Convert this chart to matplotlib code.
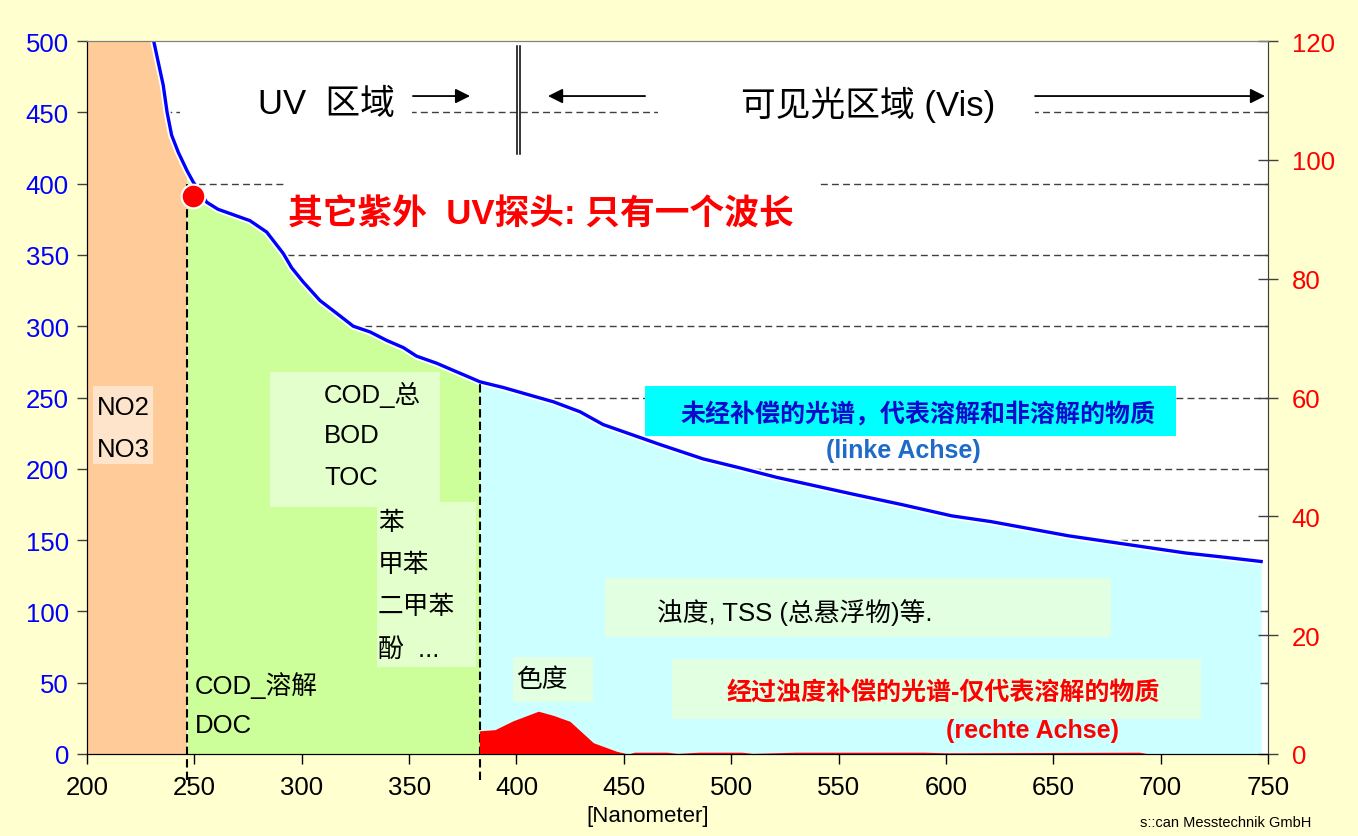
import numpy as np
import matplotlib.pyplot as plt
from matplotlib.patches import Rectangle
from matplotlib.ticker import MultipleLocator

plt.rcParams['font.family'] = ['Liberation Sans', 'Noto Sans CJK SC', 'DejaVu Sans']

# ---------------------------
# Data
# ---------------------------
# uncompensated spectrum (left axis)
wl = [200, 215, 225, 231.2, 233.2, 235.5, 237.3, 239.4, 242.5, 246.6, 249.5, 255.7,
      261.0, 266.6, 275.9, 283.7, 291.4, 295.3, 300.7, 308.5, 316.3, 324.0, 331.8,
      339.6, 347.3, 353.5, 362.9, 370.6, 378.4, 383.0, 393.9, 407.8, 417.2, 429.6,
      440.4, 466.9, 486.8, 503.1, 521.2, 539.3, 557.4, 579.2, 602.7, 620.9, 639.0,
      657.1, 675.2, 693.3, 711.4, 729.6, 746.8]
absorb = [900, 750, 590, 499, 485, 469, 450, 434, 422, 409, 401, 387,
          382, 379, 374, 366, 351, 341, 331, 318, 309, 300, 296,
          290, 285, 279, 274, 269, 264, 261, 257, 251, 247, 240,
          231, 217, 207, 201, 194, 188, 182, 175, 167, 163, 158,
          153, 149, 145, 141, 138, 135]

# turbidity-compensated spectrum (right axis)
red_wl = [382.7, 390, 398.5, 410.2, 417.2, 424.9, 435.8, 446.7, 452, 455, 470, 475,
          485, 505, 510, 530, 590, 600, 690, 695]
red_val = [3.9, 4.1, 5.6, 7.2, 6.5, 5.5, 1.9, 0.45, 0.0, 0.3, 0.3, 0.1,
           0.3, 0.3, 0.1, 0.3, 0.3, 0.2, 0.3, 0.0]

# region limits
uv_edge = 246.6     # NO2/NO3 | organics
vis_edge = 383.0    # organics | visible
probe_wl, probe_val = 249.4, 391

xticks = list(range(200, 751, 50))
left_ticks = list(range(0, 501, 50))
right_ticks = list(range(0, 121, 20))

wl = np.array(wl)
absorb = np.array(absorb)

# ---------------------------
# Figure
# ---------------------------
fig = plt.figure(figsize=(13.58, 8.37), dpi=100, facecolor='#FFFFD0')
ax = fig.add_axes([87/1358, 1-755/837, (1268-87)/1358, (755-42)/837])
ax.set_facecolor('white')
ax.set_xlim(200, 750)
ax.set_ylim(0, 500)

# gridlines behind everything
for v in left_ticks[1:-1]:
    ax.axhline(v, color='#404040', lw=1, ls=(0, (5, 3)), zorder=0.5)

# coloured areas under the curve
m1 = wl <= uv_edge
m2 = (wl >= uv_edge) & (wl <= vis_edge)
m3 = wl >= vis_edge
ax.fill_between(wl[m1], absorb[m1], color='#FFCC99', lw=0, zorder=1)
ax.fill_between(wl[m2], absorb[m2], color='#CCFF99', lw=0, zorder=1)
ax.fill_between(wl[m3], absorb[m3], color='#CCFFFF', lw=0, zorder=1)

# label boxes
boxes = [
    (202.8, 203.4, 27.9, 54.7, '#FFE4CC'),
    (285.2, 173.2, 79.2, 94.7, '#E2FFCC'),
    (335.1, 61.0, 46.1, 115.7, '#E2FFCC'),
    (398.4, 36.5, 37.3, 31.5, '#E2FFE2'),
    (441.2, 82.0, 235.7, 41.4, '#E2FFE2'),
    (472.4, 24.5, 246.4, 42.1, '#E2FFE2'),
    (459.9, 223.0, 247.3, 35.1, '#00FFFF'),
    (243.3, 439.7, 108.1, 33.7, 'white'),
    (465.9, 439.7, 175.6, 33.7, 'white'),
    (293.1, 356.2, 248.3, 45.6, 'white'),
]
for x0, y0, w, h, c in boxes:
    ax.add_patch(Rectangle((x0, y0), w, h, facecolor=c, edgecolor='none', zorder=2))

# spectrum line with a thin white rim
ax.plot(wl, absorb, color='white', lw=5, zorder=3.5, solid_capstyle='butt')
ax.plot(wl, absorb, color='#0000FF', lw=2.4, zorder=4)

# region separators
ax.plot([uv_edge, uv_edge], [-18, 400], color='black', lw=1.5, ls=(0, (4, 2)),
        zorder=5, clip_on=False)
ax.plot([vis_edge, vis_edge], [-18, 261], color='black', lw=1.5, ls=(0, (4, 2)),
        zorder=5, clip_on=False)
ax.plot(probe_wl, probe_val, 'o', ms=17, color='#FF0000', mec='white', mew=1.5, zorder=6)

# UV / Vis header
ax.plot([400.25, 400.25], [420.8, 496.5], color='black', lw=1.1, zorder=5)
ax.plot([401.65, 401.65], [420.8, 496.5], color='black', lw=1.1, zorder=5)
arrow = dict(arrowstyle='-|>', color='black', lw=1.3, mutation_scale=22,
             shrinkA=0, shrinkB=0)
ax.annotate('', xy=(378.4, 461.4), xytext=(351.8, 461.4), arrowprops=arrow, zorder=5)
ax.annotate('', xy=(414.7, 461.4), xytext=(459.9, 461.4), arrowprops=arrow, zorder=5)
ax.annotate('', xy=(748.6, 461.4), xytext=(641.5, 461.4), arrowprops=arrow, zorder=5)
ax.text(279.6, 456, 'UV  区域', fontsize=25, va='center', ha='left', zorder=5)
ax.text(563.7, 456, '可见光区域 (Vis)', fontsize=25, va='center', ha='center', zorder=5)

ax.text(293.6, 378.7, '其它紫外  UV探头: 只有一个波长', fontsize=25, color='#FF0000',
        fontweight='bold', va='center', ha='left', zorder=5)

# region texts
fs = 18.5
ax.text(204.7, 243.3, 'NO2', fontsize=fs, va='center', zorder=5)
ax.text(204.7, 213.9, 'NO3', fontsize=fs, va='center', zorder=5)
ax.text(310.4, 252.8, 'COD_总', fontsize=fs, va='center', zorder=5)
ax.text(310.4, 223.4, 'BOD', fontsize=fs, va='center', zorder=5)
ax.text(310.4, 194.6, 'TOC', fontsize=fs, va='center', zorder=5)
ax.text(335.5, 162.7, '苯', fontsize=fs, va='center', zorder=5)
ax.text(335.5, 133.3, '甲苯', fontsize=fs, va='center', zorder=5)
ax.text(335.5, 103.9, '二甲苯', fontsize=fs, va='center', zorder=5)
ax.text(335.5, 73.6, '酚  ...', fontsize=fs, va='center', zorder=5)
ax.text(250.3, 48.4, 'COD_溶解', fontsize=fs, va='center', zorder=5)
ax.text(250.3, 20.3, 'DOC', fontsize=fs, va='center', zorder=5)
ax.text(400.3, 52.6, '色度', fontsize=fs, va='center', zorder=5)
ax.text(465.5, 99.6, '浊度, TSS (总悬浮物)等.', fontsize=fs, va='center', zorder=5)
ax.text(587, 239.1, '未经补偿的光谱，代表溶解和非溶解的物质', fontsize=18,
        color='#0A0ACC', fontweight='bold', va='center', ha='center', zorder=5)
ax.text(580, 213.2, '(linke Achse)', fontsize=18, color='#1E6BC8',
        fontweight='bold', va='center', ha='center', zorder=5)
ax.text(598.6, 43.5, '经过浊度补偿的光谱-仅代表溶解的物质', fontsize=18,
        color='#FF0000', fontweight='bold', va='center', ha='center', zorder=5)
ax.text(640.1, 16.8, '(rechte Achse)', fontsize=18, color='#FF0000',
        fontweight='bold', va='center', ha='center', zorder=5)

# axes styling
ax.set_xticks(xticks)
ax.set_yticks(left_ticks)
ax.tick_params(axis='x', direction='out', length=7, width=1, pad=8,
               labelsize=18.5, colors='black')
ax.tick_params(axis='y', direction='out', length=7, width=1, pad=6,
               labelsize=18.5, labelcolor='#0000FF', color='#404040')
for s in ['top', 'right']:
    ax.spines[s].set_color('#808080')
ax.spines['left'].set_color('black')
ax.spines['bottom'].set_color('black')

# right axis: compensated spectrum
ax2 = ax.twinx()
ax2.set_ylim(0, 120)
ax2.fill_between(red_wl, red_val, color='#FF0000', lw=0, zorder=2)
ax2.set_yticks(right_ticks)
ax2.yaxis.set_minor_locator(MultipleLocator(12))
ax2.tick_params(axis='y', which='major', direction='inout', length=14, width=1,
                pad=10, labelsize=18.5, labelcolor='#FF0000', color='#404040')
ax2.tick_params(axis='y', which='minor', direction='in', length=6, width=1,
                color='#404040')
ax2.spines['right'].set_color('#404040')
ax2.spines['top'].set_color('#808080')

fig.text(648/1358, 1-817/837, '[Nanometer]', fontsize=16, ha='center', va='center')
fig.text(1226/1358, 1-823/837, 's::can Messtechnik GmbH', fontsize=10.5,
         ha='center', va='center')

fig.savefig('out.png', dpi=100, facecolor=fig.get_facecolor())
